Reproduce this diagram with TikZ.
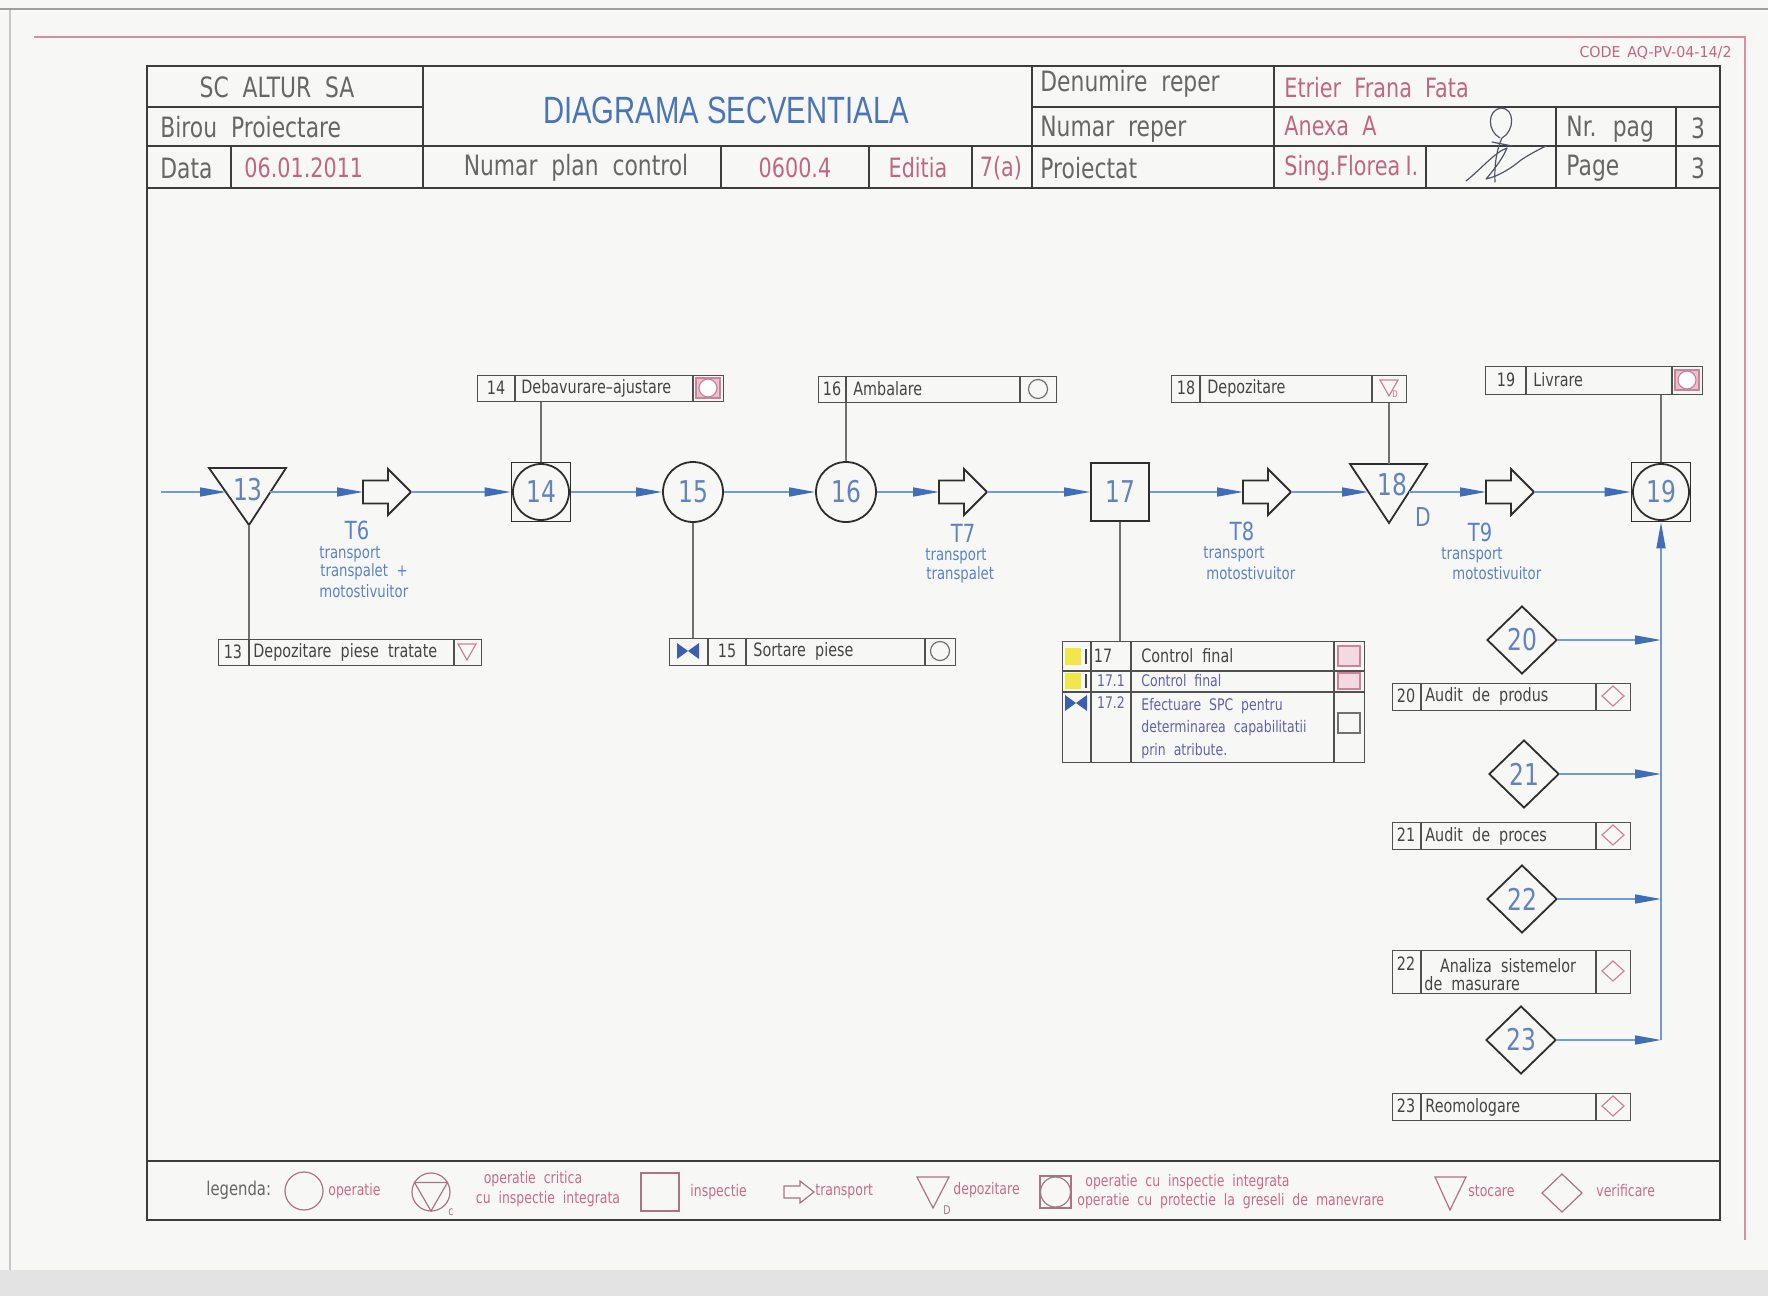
\documentclass[tikz,border=0pt]{standalone}
\usepackage{fontspec}
\setmainfont{DejaVu Sans}
\newfontfamily\cad{DejaVu Sans}[FakeStretch=0.78,WordSpace=2]
\newfontfamily\cadw{DejaVu Sans}[FakeStretch=0.95,WordSpace=1.5]
\newfontfamily\titlefont{Liberation Sans}[FakeStretch=0.77]
\usetikzlibrary{arrows.meta,shapes.geometric}
\newcommand\fsz[1]{\fontsize{#1}{#1}\selectfont}
\definecolor{pagebg}{HTML}{F7F8F6}
\definecolor{framec}{HTML}{3C3C3C}
\definecolor{txtgray}{HTML}{666666}
\definecolor{txtdark}{HTML}{444444}
\definecolor{pinktxt}{HTML}{BF6680}
\definecolor{titleblue}{HTML}{4A74B8}
\definecolor{numblue}{HTML}{6283BB}
\definecolor{flowblue}{HTML}{6F9BD8}
\definecolor{arrowblue}{HTML}{3F6DB6}
\definecolor{tblue}{HTML}{5B82C4}
\definecolor{purpleblue}{HTML}{5E62A8}
\definecolor{nodeline}{HTML}{2E2E2E}
\definecolor{linkgray}{HTML}{707070}
\definecolor{boxgray}{HTML}{505050}
\definecolor{pinkline}{HTML}{C9849A}
\definecolor{pinkfill}{HTML}{EBBFCD}
\definecolor{legrose}{HTML}{C86A88}
\definecolor{legshape}{HTML}{A87584}
\definecolor{redline}{HTML}{D8909F}
\definecolor{sigink}{HTML}{4F5566}
\definecolor{yellowm}{HTML}{F2E64A}
\definecolor{bowblue}{HTML}{3D5DAE}
\tikzset{
  framel/.style={draw=framec, line width=0.85pt},
  hdr/.style={font={\cad\fsz{14pt}}, text=txtgray, inner sep=0},
  hdrp/.style={hdr, font={\cad\fsz{13.3pt}}, text=pinktxt},
  numtxt/.style={font={\cad\fsz{15pt}}, text=numblue, inner sep=0},
  nodeln/.style={draw=nodeline, line width=0.9pt, line join=miter},
  opc/.style={circle, nodeln, minimum size=30pt, inner sep=0, numtxt},
  insq/.style={rectangle, nodeln, minimum size=29pt, inner sep=0, numtxt},
  diam/.style={diamond, nodeln, minimum width=35pt, minimum height=34pt, inner sep=0, numtxt},
  flow/.style={draw=flowblue, line width=0.8pt, -{Triangle[length=13pt,width=4.5pt,color=arrowblue]}},
  link/.style={draw=linkgray, line width=0.55pt},
  boxl/.style={draw=boxgray, line width=0.6pt},
  boxn/.style={rectangle, boxl, inner sep=0, anchor=north west},
  lbl/.style={font={\cad\fsz{9.2pt}}, text=txtdark, inner sep=0},
  tlab/.style={font={\cad\fsz{12.5pt}}, text=tblue, inner sep=0},
  tsm/.style={font={\cad\fsz{8.5pt}}, text=tblue, inner sep=0, anchor=west},
  leg/.style={font={\cad\fsz{8pt}}, text=legrose, inner sep=0},
  legsh/.style={draw=legshape, line width=0.6pt},
  pinksym/.style={draw=pinkline, line width=0.6pt},
  graysym/.style={draw=linkgray, line width=0.6pt},
  sig/.style={draw=sigink, line width=0.6pt, line cap=round, line join=round},
  transp/.pic={
    \draw[nodeln] (0,-11.5) -- (25,-11.5) -- (25,-23) -- (48,0) -- (25,23) -- (25,11.5) -- (0,11.5) -- cycle;
    \coordinate (-w) at (0,0);
    \coordinate (-e) at (48,0);
  }
}
\newcommand\sqcircsym[2]{%
  \draw[pinksym, fill=pinkfill] (#1-12,#2-10) rectangle (#1+12,#2+10);
  \draw[pinksym, fill=white] (#1,#2) circle (9);}
\newcommand\circsym[2]{\draw[graysym] (#1,#2) circle (9.5);}
\newcommand\trisym[2]{\draw[pinksym] (#1-9,#2-8) -- (#1+9,#2-8) -- (#1,#2+8) -- cycle;}
\newcommand\diasym[2]{\draw[pinksym] (#1-11,#2) -- (#1,#2-10) -- (#1+11,#2) -- (#1,#2+10) -- cycle;}
\newcommand\bowsym[2]{\fill[bowblue] (#1-11,#2-8) -- (#1,#2) -- (#1-11,#2+8) -- cycle (#1+11,#2-8) -- (#1,#2) -- (#1+11,#2+8) -- cycle;}
\newcommand\pinksq[4]{\draw[pinksym, fill=pinkfill!60] (#1-#3,#2-#4) rectangle (#1+#3,#2+#4);}
\begin{document}
\begin{tikzpicture}[x=0.5pt,y=-0.5pt]
\useasboundingbox (0,0) rectangle (1768,1296);
\fill[pagebg] (0,0) rectangle (1768,1296);
% scan edges
\fill[gray!22] (0,1270) rectangle (1768,1296);
\draw[gray!75, line width=1.1pt] (0,9) -- (1768,9);
\draw[gray!45, line width=0.6pt] (10,10) -- (10,1270);
% red outer lines
\draw[redline, line width=0.6pt] (34,37) -- (1745,37) -- (1745,1240);
\node[font={\cadw\fsz{7.5pt}}, text=pinktxt, inner sep=0, anchor=east] (code) at (1732,53) {CODE AQ-PV-04-14/2};
% frame
\draw[framel] (147,66) rectangle (1720,1220);
\draw[framel] (147,188) -- (1720,188);
\draw[framel] (147,1161) -- (1720,1161);
\draw[framel] (423,66) -- (423,188);
\draw[framel] (147,107) -- (423,107);
\draw[framel] (147,146) -- (1720,146);
\draw[framel] (231,146) -- (231,188);
\draw[framel] (721,146) -- (721,188);
\draw[framel] (869,146) -- (869,188);
\draw[framel] (972,146) -- (972,188);
\draw[framel] (1032,66) -- (1032,188);
\draw[framel] (1032,107) -- (1720,107);
\draw[framel] (1274,66) -- (1274,188);
\draw[framel] (1426,146) -- (1426,188);
\draw[framel] (1556,107) -- (1556,188);
\draw[framel] (1676,107) -- (1676,188);
% header texts
\node[hdr] (h1) at (277,87) {SC ALTUR SA};
\node[hdr, anchor=west] (h2) at (160,127) {Birou Proiectare};
\node[hdr, anchor=west] (h3) at (160,168) {Data};
\node[hdrp, anchor=west] (h4) at (244,168) {06.01.2011};
\node[font={\titlefont\fsz{19pt}}, text=titleblue, inner sep=0] (title) at (726,110) {DIAGRAMA SECVENTIALA};
\node[hdr] (h5) at (576,168) {Numar plan control};
\node[hdrp] (h6) at (795,168) {0600.4};
\node[hdrp] (h7) at (918,168) {Editia};
\node[hdrp] (h8) at (1001,168) {7(a)};
\node[hdr, anchor=west] (h9) at (1040,84) {Denumire reper};
\node[hdrp, anchor=west] (h10) at (1284,88) {Etrier Frana Fata};
\node[hdr, anchor=west] (h11) at (1040,129) {Numar reper};
\node[hdrp, anchor=west] (h12) at (1284,126) {Anexa A};
\node[hdr, anchor=west] (h13) at (1566,129) {Nr. pag};
\node[hdr] (h14) at (1698,128) {3};
\node[hdr, anchor=west] (h15) at (1040,168) {Proiectat};
\node[hdrp, anchor=west] (h16) at (1284,168) {Sing.Florea\hspace{0.2em}I.};
\node[hdr, anchor=west] (h17) at (1566,168) {Page};
\node[hdr] (h18) at (1698,168) {3};
% signature
\draw[sig] (1500,138) .. controls (1487,131) and (1487,110) .. (1501,108) .. controls (1515,108) and (1515,131) .. (1502,138) .. controls (1497,148) and (1494,165) .. (1495,182);
\draw[sig] (1492,142) -- (1512,146);
\draw[sig] (1466,181) .. controls (1480,170) and (1495,152) .. (1507,148) .. controls (1502,160) and (1492,172) .. (1486,179) .. controls (1500,176) and (1514,166) .. (1521,160) .. controls (1530,154) and (1538,150) .. (1546,146);
% ---------- main flow ----------
\coordinate (start) at (161,492);
\draw[nodeln] (209,468) -- (286,468) -- (249,525) -- cycle;
\coordinate (t13w) at (226,492);
\coordinate (t13e) at (270,492);
\coordinate (t13s) at (249,525);
\node[numtxt] (n13) at (248,490) {13};
\pic (t6) at (363,492) {transp};
\node[insq, minimum size=29.5pt] (n14) at (541,492) {};
\node[opc, minimum size=28pt] (n14c) at (n14) {14};
\node[opc] (n15) at (693,492) {15};
\node[opc] (n16) at (846,492) {16};
\pic (t7) at (939,492) {transp};
\node[insq] (n17) at (1120,492) {17};
\pic (t8) at (1243,492) {transp};
\draw[nodeln] (1350,464) -- (1427,464) -- (1389,523) -- cycle;
\coordinate (t18w) at (1368,492);
\coordinate (t18e) at (1409,492);
\coordinate (t18n) at (1389,464);
\node[numtxt] (n18) at (1392,485) {18};
\node[font={\cad\fsz{13pt}}, text=numblue, inner sep=0] (n18d) at (1423,517) {D};
\pic (t9) at (1486,492) {transp};
\node[insq, minimum size=29.5pt] (n19) at (1661,492) {};
\node[opc, minimum size=28pt] (n19c) at (n19) {19};
\draw[flow] (start) -- (t13w);
\draw[flow] (t13e) -- (t6-w);
\draw[flow] (t6-e) -- (n14);
\draw[flow] (n14) -- (n15);
\draw[flow] (n15) -- (n16);
\draw[flow] (n16) -- (t7-w);
\draw[flow] (t7-e) -- (n17);
\draw[flow] (n17) -- (t8-w);
\draw[flow] (t8-e) -- (t18w);
\draw[flow] (t18e) -- (t9-w);
\draw[flow] (t9-e) -- (n19);
% transport labels
\node[tlab] (l6) at (357,530) {T6};
\node[tsm] (l6a) at (319,554) {transport};
\node[tsm] (l6b) at (320,572) {transpalet +};
\node[tsm] (l6c) at (319,591) {motostivuitor};
\node[tlab] (l7) at (963,533) {T7};
\node[tsm] (l7a) at (925,556) {transport};
\node[tsm] (l7b) at (926,575) {transpalet};
\node[tlab] (l8) at (1242,531) {T8};
\node[tsm] (l8a) at (1203,554) {transport};
\node[tsm] (l8b) at (1206,573) {motostivuitor};
\node[tlab] (l9) at (1480,532) {T9};
\node[tsm] (l9a) at (1441,555) {transport};
\node[tsm] (l9b) at (1452,573) {motostivuitor};
% ---------- label boxes ----------
% 13
\node[boxn, minimum width=131.5pt, minimum height=13pt] (b13) at (218,639) {};
\draw[boxl] (249,639) -- (249,665) (454,639) -- (454,665);
\node[lbl] (b13n) at (233,652) {13};
\node[lbl, anchor=west] (b13t) at (253,652) {Depozitare piese tratate};
\trisym{467}{652}
% 14
\node[boxn, minimum width=123pt, minimum height=13pt] (b14) at (477,375) {};
\draw[boxl] (515,375) -- (515,401) (693,375) -- (693,401);
\node[lbl] (b14n) at (496,388) {14};
\node[lbl, anchor=west] (b14t) at (521,388) {Debavurare–ajustare};
\sqcircsym{708}{388}
% 15
\node[boxn, minimum width=143pt, minimum height=13.5pt] (b15) at (669,638) {};
\draw[boxl] (708,638) -- (708,665) (746,638) -- (746,665) (925,638) -- (925,665);
\bowsym{688}{651}
\node[lbl] (b15n) at (727,651) {15};
\node[lbl, anchor=west] (b15t) at (753,651) {Sortare piese};
\circsym{940}{651}
% 16
\node[boxn, minimum width=119pt, minimum height=13pt] (b16) at (818,376) {};
\draw[boxl] (846,376) -- (846,402) (1020,376) -- (1020,402);
\node[lbl] (b16n) at (832,389) {16};
\node[lbl, anchor=west] (b16t) at (853,389) {Ambalare};
\circsym{1038}{389}
% 18
\node[boxn, minimum width=117.5pt, minimum height=13.5pt] (b18) at (1171,375) {};
\draw[boxl] (1200,375) -- (1200,402) (1372,375) -- (1372,402);
\node[lbl] (b18n) at (1186,388) {18};
\node[lbl, anchor=west] (b18t) at (1207,388) {Depozitare};
\trisym{1389}{388}
\node[font={\cad\fsz{4.5pt}}, text=pinktxt, inner sep=0] (b18d) at (1395,394) {D};
% 19
\node[boxn, minimum width=108.5pt, minimum height=14pt] (b19) at (1485,366) {};
\draw[boxl] (1526,366) -- (1526,394) (1672,366) -- (1672,394);
\node[lbl] (b19n) at (1506,380) {19};
\node[lbl, anchor=west] (b19t) at (1533,380) {Livrare};
\sqcircsym{1687}{380}
% links
\draw[link] (t13s) -- (t13s |- b13.north);
\draw[link] (n14) -- (n14 |- b14.south);
\draw[link] (n15) -- (n15 |- b15.north);
\draw[link] (n16) -- (n16 |- b16.south);
\draw[link] (t18n) -- (t18n |- b18.south);
\draw[link] (n19) -- (n19 |- b19.south);
% ---------- table 17 ----------
\node[boxn, minimum width=151pt, minimum height=60.5pt] (t17) at (1062,641) {};
\draw[link] (n17) -- (n17 |- t17.north);
\draw[boxl] (1062,671) -- (1364,671) (1062,692) -- (1364,692);
\draw[boxl] (1091,641) -- (1091,762) (1131,641) -- (1131,762) (1334,641) -- (1334,762);
\fill[yellowm] (1065,648) rectangle (1081,665);
\fill[yellowm] (1065,673) rectangle (1081,689);
\draw[txtdark, line width=0.7pt] (1086,649) -- (1086,664);
\draw[txtdark, line width=0.7pt] (1086,674) -- (1086,688);
\bowsym{1076}{703}
\node[lbl] (r1n) at (1103,656) {17};
\node[lbl, anchor=west] (r1t) at (1141,656) {Control final};
\node[font={\cad\fsz{8pt}}, text=purpleblue, inner sep=0] (r2n) at (1111,681) {17.1};
\node[font={\cad\fsz{8pt}}, text=purpleblue, inner sep=0, anchor=west] (r2t) at (1141,681) {Control final};
\node[font={\cad\fsz{8pt}}, text=purpleblue, inner sep=0] (r3n) at (1111,703) {17.2};
\node[font={\cad\fsz{8pt}}, text=purpleblue, inner sep=0, anchor=west] (r3a) at (1141,706) {Efectuare SPC pentru};
\node[font={\cad\fsz{8pt}}, text=purpleblue, inner sep=0, anchor=west] (r3b) at (1141,728) {determinarea capabilitatii};
\node[font={\cad\fsz{8pt}}, text=purpleblue, inner sep=0, anchor=west] (r3c) at (1141,751) {prin atribute.};
\pinksq{1349}{656}{11}{10}
\pinksq{1349}{681}{11}{8}
\draw[graysym] (1338,713) rectangle (1360,733);
% ---------- verification diamonds ----------
\node[diam] (d20) at (1522,640) {20};
\node[diam] (d21) at (1524,774) {21};
\node[diam] (d22) at (1522,899) {22};
\node[diam] (d23) at (1521,1040) {23};
\draw[flow] (d20) -- (d20 -| n19);
\draw[flow] (d21) -- (d21 -| n19);
\draw[flow] (d22) -- (d22 -| n19);
\draw[flow] (d23) -- (d23 -| n19);
\draw[flow] (d23 -| n19) -- (n19);
% boxes 20-23
\node[boxn, minimum width=119pt, minimum height=13.5pt] (b20) at (1392,683) {};
\draw[boxl] (1421,683) -- (1421,710) (1596,683) -- (1596,710);
\node[lbl] (b20n) at (1406,696) {20};
\node[lbl, anchor=west] (b20t) at (1425,696) {Audit de produs};
\diasym{1613}{696}
\node[boxn, minimum width=119pt, minimum height=13.5pt] (b21) at (1392,822) {};
\draw[boxl] (1421,822) -- (1421,849) (1596,822) -- (1596,849);
\node[lbl] (b21n) at (1406,835) {21};
\node[lbl, anchor=west] (b21t) at (1425,836) {Audit de proces};
\diasym{1613}{835}
\node[boxn, minimum width=119pt, minimum height=21.5pt] (b22) at (1392,950) {};
\draw[boxl] (1421,950) -- (1421,993) (1596,950) -- (1596,993);
\node[lbl] (b22n) at (1406,964) {22};
\node[lbl] (b22t) at (1508,966) {Analiza sistemelor};
\node[lbl, anchor=west] (b22u) at (1424,984) {de masurare};
\diasym{1613}{971}
\node[boxn, minimum width=119pt, minimum height=13.5pt] (b23) at (1392,1093) {};
\draw[boxl] (1421,1093) -- (1421,1120) (1596,1093) -- (1596,1120);
\node[lbl] (b23n) at (1406,1106) {23};
\node[lbl, anchor=west] (b23t) at (1425,1107) {Reomologare};
\diasym{1613}{1106}
% ---------- legend ----------
\node[font={\cad\fsz{9.5pt}}, text=txtgray, inner sep=0, anchor=west] (lg) at (206,1190) {legenda:};
\draw[legsh] (304,1191) circle (19);
\node[leg, anchor=west] (lg1) at (328,1191) {operatie};
\draw[legsh] (431,1192) circle (19);
\draw[legsh] (414.5,1182.5) -- (447.5,1182.5) -- (431,1211) -- cycle;
\node[font={\cad\fsz{6pt}}, text=legshape, inner sep=0] (lgc) at (451,1212) {c};
\node[leg] (lg2) at (533,1179) {operatie critica};
\node[leg] (lg3) at (548,1199) {cu inspectie integrata};
\draw[legsh] (641,1173) rectangle (679,1211);
\node[leg, anchor=west] (lg4) at (690,1192) {inspectie};
\draw[legsh] (784,1186) -- (800,1186) -- (800,1181) -- (814,1192) -- (800,1203) -- (800,1198) -- (784,1198) -- cycle;
\node[leg, anchor=west] (lg5) at (815,1192) {transport};
\draw[legsh] (917,1177) -- (949,1177) -- (933,1208) -- cycle;
\node[font={\cad\fsz{6pt}}, text=legshape, inner sep=0] (lgd) at (947,1210) {D};
\node[leg, anchor=west] (lg6) at (953,1190) {depozitare};
\draw[legsh] (1040,1176) rectangle (1071,1208);
\draw[legsh] (1055.5,1192) circle (15);
\node[leg, anchor=west] (lg7) at (1085,1182) {operatie cu inspectie integrata};
\node[leg, anchor=west] (lg8) at (1077,1201) {operatie cu protectie la greseli de manevrare};
\draw[legsh] (1435,1177) -- (1466,1177) -- (1450,1210) -- cycle;
\node[leg, anchor=west] (lg9) at (1468,1191) {stocare};
\draw[legsh] (1542,1193) -- (1562,1174) -- (1582,1193) -- (1562,1212) -- cycle;
\node[leg, anchor=west] (lg10) at (1596,1191) {verificare};
\end{tikzpicture}
\end{document}
